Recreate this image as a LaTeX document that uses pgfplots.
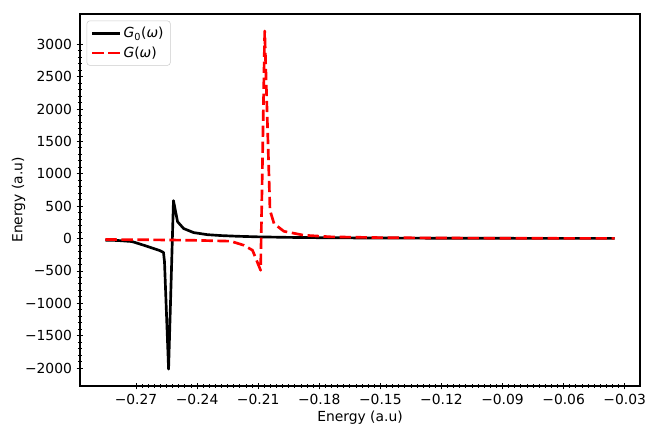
\documentclass[border=0pt]{standalone}
\usepackage{fontspec}
\setmainfont{DejaVu Sans}
\usepackage{pgfplots}
\pgfplotsset{compat=1.18}

\begin{document}
\begin{tikzpicture}
\begin{axis}[
    scale only axis,
    width=420pt, height=279pt,
    xmin=-0.2975, xmax=-0.0225,
    ymin=-2276, ymax=3466,
    xtick={-0.27,-0.24,-0.21,-0.18,-0.15,-0.12,-0.09,-0.06,-0.03},
    xticklabels={−0.27,−0.24,−0.21,−0.18,−0.15,−0.12,−0.09,−0.06,−0.03},
    ytick={-2000,-1500,-1000,-500,0,500,1000,1500,2000,2500,3000},
    yticklabels={−2000,−1500,−1000,−500,0,500,1000,1500,2000,2500,3000},
    minor x tick num=9,
    minor y tick num=4,
    tick pos=left,
    tick align=center,
    major tick length=5pt,
    minor tick length=3pt,
    tick style={black, line width=0.6pt},
    axis line style={line width=0.8pt},
    ticklabel style={font=\fontsize{10.4}{12}\selectfont},
    label style={font=\fontsize{10.4}{12}\selectfont},
    xlabel={Energy (a.u)},
    ylabel={Energy (a.u)},
    xlabel style={yshift=2pt},
    ylabel style={yshift=-7pt},
    legend cell align=left,
    legend style={at={(0,1)}, anchor=north west, xshift=5pt, yshift=-5pt,
        draw=black!20, rounded corners=2pt, fill=white, fill opacity=0.8,
        text opacity=1, font=\fontsize{10.4}{12}\selectfont,
        inner xsep=3pt, inner ysep=2.5pt, row sep=1.5pt},
    legend image code/.code={\draw[#1] (0cm,0cm) -- (0.72cm,0cm);},
]
% G0(omega)
\addplot[black, line width=2pt, line join=round] coordinates {
    (-0.2850,-25) (-0.2790,-30) (-0.2720,-46) (-0.2650,-115)
    (-0.2584,-185) (-0.2565,-215) (-0.2560,-360) (-0.2540,-2015)
    (-0.2516,585) (-0.2496,260) (-0.2466,154) (-0.2417,92)
    (-0.2350,60) (-0.2284,46) (-0.2200,35) (-0.2100,26)
    (-0.1950,18) (-0.1800,13) (-0.1600,9) (-0.1400,7)
    (-0.1200,5) (-0.1000,4) (-0.0800,3) (-0.0600,3) (-0.0350,2)
};
\addlegendentry{\textit{G}\textsubscript{0}(\textit{ω})}
% G(omega)
\addplot[red, line width=2pt, dash pattern=on 8.5pt off 3.5pt, line join=round] coordinates {
    (-0.2850,-15) (-0.2700,-18) (-0.2550,-22) (-0.2400,-28)
    (-0.2235,-41) (-0.2171,-103) (-0.2128,-180) (-0.2088,-490)
    (-0.2068,3205) (-0.2042,435) (-0.2022,230) (-0.1974,112)
    (-0.1876,51) (-0.1743,26) (-0.1500,14) (-0.1200,8)
    (-0.0900,5) (-0.0600,3) (-0.0350,2)
};
\addlegendentry{\textit{G}(\textit{ω})}
\end{axis}
\pgfresetboundingbox
\path (current axis.south west) ++(-60pt,-30pt) coordinate (bl);
\path (current axis.north east) ++(3.75pt,10.5pt) coordinate (tr);
\useasboundingbox (bl) rectangle (tr);
\end{tikzpicture}
\end{document}
